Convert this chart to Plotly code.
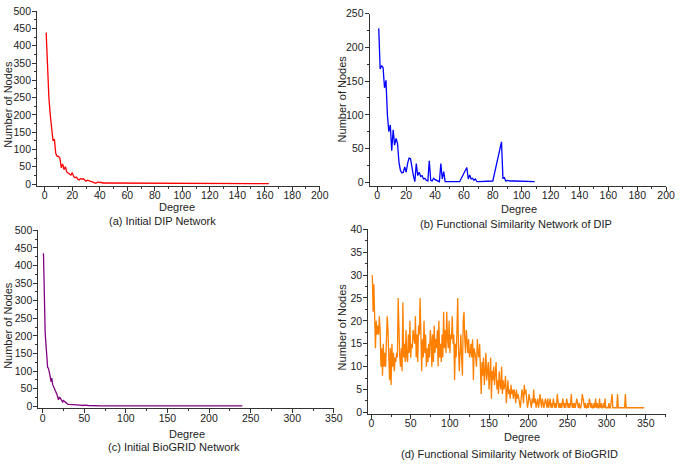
import plotly.graph_objects as go

W, H = 685, 464

# ---------------- data ----------------
# (a) Initial DIP Network
dip_deg = list(range(1, 47)) + [48, 50, 52, 55, 58, 60, 62, 65, 68, 70, 75, 80, 85, 90, 95, 100, 110, 120, 130, 140, 150, 163]
dip_cnt = [438, 330, 250, 200, 160, 125, 130, 88, 80, 80,
           75, 47, 58, 42, 50, 35, 32, 30, 26, 33,
           22, 18, 20, 14, 12, 16, 14, 15, 12, 8,
           11, 10, 9, 7, 6, 4, 2, 5, 6, 4,
           5, 3, 3, 2, 1, 2,
           2, 1, 1, 2, 1, 3, 1, 1, 1, 2, 1, 1, 1, 1, 1, 1, 1, 1, 1, 1, 1, 1]

# (b) Functional Similarity Network of DIP
fsdip_deg = list(range(1, 49)) + [57, 62, 63, 64, 65, 66, 67, 68, 69, 70, 80, 86, 87, 88, 89, 90, 92, 95, 100, 105, 109]
fsdip_cnt = [228, 168, 173, 170, 140, 151, 100, 75, 85, 47,
             78, 55, 65, 58, 30, 18, 14, 15, 23, 15,
             28, 36, 35, 20, 10, 1, 28, 10, 15, 9,
             10, 5, 6, 3, 2, 32, 3, 2, 6, 4,
             3, 2, 1, 28, 5, 16, 1, 1,
             1, 22, 5, 11, 5, 6, 3, 5, 1, 1, 2, 60, 6, 7, 2, 3, 2, 2, 2, 1, 1]

# (c) Initial BioGRID Network
bg_deg = list(range(1, 31)) + [32, 34, 36, 38, 40, 42, 45, 48, 50, 55, 60, 65, 70, 80, 90, 100, 120, 140, 160, 180, 200, 220, 240]
bg_cnt = [435, 270, 210, 175, 140, 110, 108, 100, 85, 70,
          80, 62, 55, 48, 45, 40, 35, 28, 18, 25,
          24, 20, 15, 12, 16, 14, 10, 8, 7, 6,
          5, 5, 4, 3, 4, 3, 3, 2, 3, 2, 1, 1, 1, 1, 1, 1, 1, 1, 1, 1, 1, 1, 1]

# (d) Functional Similarity Network of BioGRID
fsbg_cnt = [30, 22, 28, 20, 14, 20, 17, 19, 17, 21,
            18, 10, 14, 8, 15, 10, 13, 10, 14, 21,
            18, 12, 7, 14, 6, 15, 10, 13, 9, 12,
            11, 13, 12, 25, 15, 12, 10, 14, 9, 24,
            12, 15, 11, 18, 12, 11, 17, 13, 20, 12,
            15, 14, 18, 16, 15, 21, 12, 17, 11, 19,
            17, 25, 14, 9, 16, 12, 20, 13, 17, 10,
            14, 11, 15, 12, 18, 16, 10, 17, 11, 19,
            13, 16, 14, 18, 10, 20, 12, 15, 11, 17,
            12, 22, 14, 18, 13, 22, 16, 14, 20, 13,
            17, 16, 21, 15, 17, 7, 15, 12, 18, 25,
            14, 9, 13, 17, 12, 8, 20, 22, 16, 13,
            18, 14, 13, 16, 12, 13, 15, 12, 16, 7,
            14, 13, 12, 10, 16, 13, 12, 15, 9, 4,
            11, 8, 12, 6, 9, 13, 7, 10, 11, 5,
            8, 12, 3, 9, 7, 10, 6, 8, 11, 5,
            7, 4, 9, 6, 5, 10, 4, 7, 5, 6,
            8, 2, 5, 7, 4, 5, 3, 6, 4, 5,
            3, 5, 4, 2, 5, 3, 4, 3, 2, 1,
            3, 5, 4, 2, 6, 4, 5, 3, 1, 2,
            4, 3, 2, 1, 3, 2, 5, 2, 3, 1,
            2, 3, 1, 2, 4, 2, 1, 3, 2, 1,
            2, 3, 2, 1, 3, 1, 2, 3, 1, 2,
            1, 3, 2, 1, 2, 1, 4, 2, 1, 2,
            1, 2, 1, 3, 2, 1, 2, 1, 3, 2,
            1, 2, 1, 2, 4, 1, 2, 1, 2, 1,
            2, 3, 2, 1, 2, 1, 1, 2, 4, 3,
            2, 1, 2, 1, 1, 2, 1, 3, 2, 1,
            2, 1, 1, 2, 1, 3, 1, 2, 1, 1,
            3, 1, 2, 1, 1, 2, 1, 3, 1, 1,
            1, 1, 2, 1, 1, 3, 4, 1, 1, 1,
            1, 1, 1, 4, 1, 1, 1, 1, 1, 1,
            1, 1, 1, 4, 1]
fsbg_deg = list(range(1, len(fsbg_cnt) + 1)) + [348]
fsbg_cnt = fsbg_cnt + [1]

captions = ["(a) Initial DIP Network", "(b) Functional Similarity Network of DIP",
            "(c) Initial BioGRID Network", "(d) Functional Similarity Network of BioGRID"]

# ---------------- figure ----------------
FONT = "Liberation Sans, Arial, sans-serif"
fig = go.Figure()

def px_x(x):
    return x / W

def px_y(y):
    return 1 - y / H

panels = [
    # x data, y data, color, x px domain, y px domain (top,bottom), xrange, yrange, xdtick, ydtick
    (dip_deg, dip_cnt, "#FF0000", (37.7, 324), (5.3, 183.7), [-5.5, 200], [-5, 500], 20, 50),
    (fsdip_deg, fsdip_cnt, "#0000FF", (374.7, 675), (7.7, 183.7), [-5.2, 200], [-5, 250], 20, 50),
    (bg_deg, bg_cnt, "#800080", (39, 338.3), (229.3, 411), [-5, 350], [-5.5, 500], 50, 50),
    (fsbg_deg, fsbg_cnt, "#FF8000", (373.3, 675), (228.3, 416.7), [-4, 376], [-0.3, 40], 50, 5),
]

for i, (xd, yd, col, xdom, ydom, xr, yr, xdt, ydt) in enumerate(panels):
    n = "" if i == 0 else str(i + 1)
    fig.add_trace(go.Scatter(x=xd, y=yd, mode="lines", line=dict(color=col, width=1.3),
                             xaxis="x" + n, yaxis="y" + n, showlegend=False))
    axcommon = dict(showline=True, linecolor="#333333", linewidth=1.2, ticks="outside",
                    ticklen=4, tickwidth=1, tickcolor="#333333", showgrid=False, zeroline=False,
                    tickfont=dict(family=FONT, size=10.5, color="#222222"), fixedrange=True)
    fig.update_layout(**{
        "xaxis" + n: dict(domain=[px_x(xdom[0]), px_x(xdom[1])], range=xr, dtick=xdt, tick0=0,
                          anchor="y" + n, ticklabelstandoff=-4,
                          minor=dict(dtick=xdt / 2, tick0=0, ticks="outside", ticklen=2,
                                     tickcolor="#333333", showgrid=False),
                          **axcommon),
        "yaxis" + n: dict(domain=[px_y(ydom[1]), px_y(ydom[0])], range=yr, dtick=ydt, tick0=0,
                          anchor="x" + n, ticklabelstandoff=-1,
                          minor=dict(dtick=ydt / 2, tick0=0, ticks="outside", ticklen=2,
                                     tickcolor="#333333", showgrid=False),
                          **axcommon),
    })

ann = []
def add_text(x, y, text, angle=0, size=11):
    ann.append(dict(x=px_x(x), y=px_y(y), xref="paper", yref="paper", text=text,
                    showarrow=False, textangle=angle, xanchor="center", yanchor="middle",
                    font=dict(family=FONT, size=size, color="#222222")))

# axis titles
add_text(8, 100, "Number of Nodes", -90)
add_text(346, 95, "Number of Nodes", -90)
add_text(8, 326, "Number of Nodes", -90)
add_text(346, 328, "Number of Nodes", -90)
add_text(179, 205, "Degree")
add_text(526, 207, "Degree")
add_text(189, 437, "Degree")
add_text(529, 440, "Degree")
# captions
add_text(165, 220, captions[0])
add_text(523, 223, captions[1])
add_text(176, 451, captions[2])
add_text(516, 458, captions[3])

fig.update_layout(width=W, height=H, margin=dict(l=0, r=0, t=0, b=0),
                  paper_bgcolor="white", plot_bgcolor="white", annotations=ann,
                  font=dict(family=FONT))

fig.write_html("out.html", config={"displayModeBar": False},
               post_script="document.body.style.margin='0';document.body.style.overflow='hidden';")
